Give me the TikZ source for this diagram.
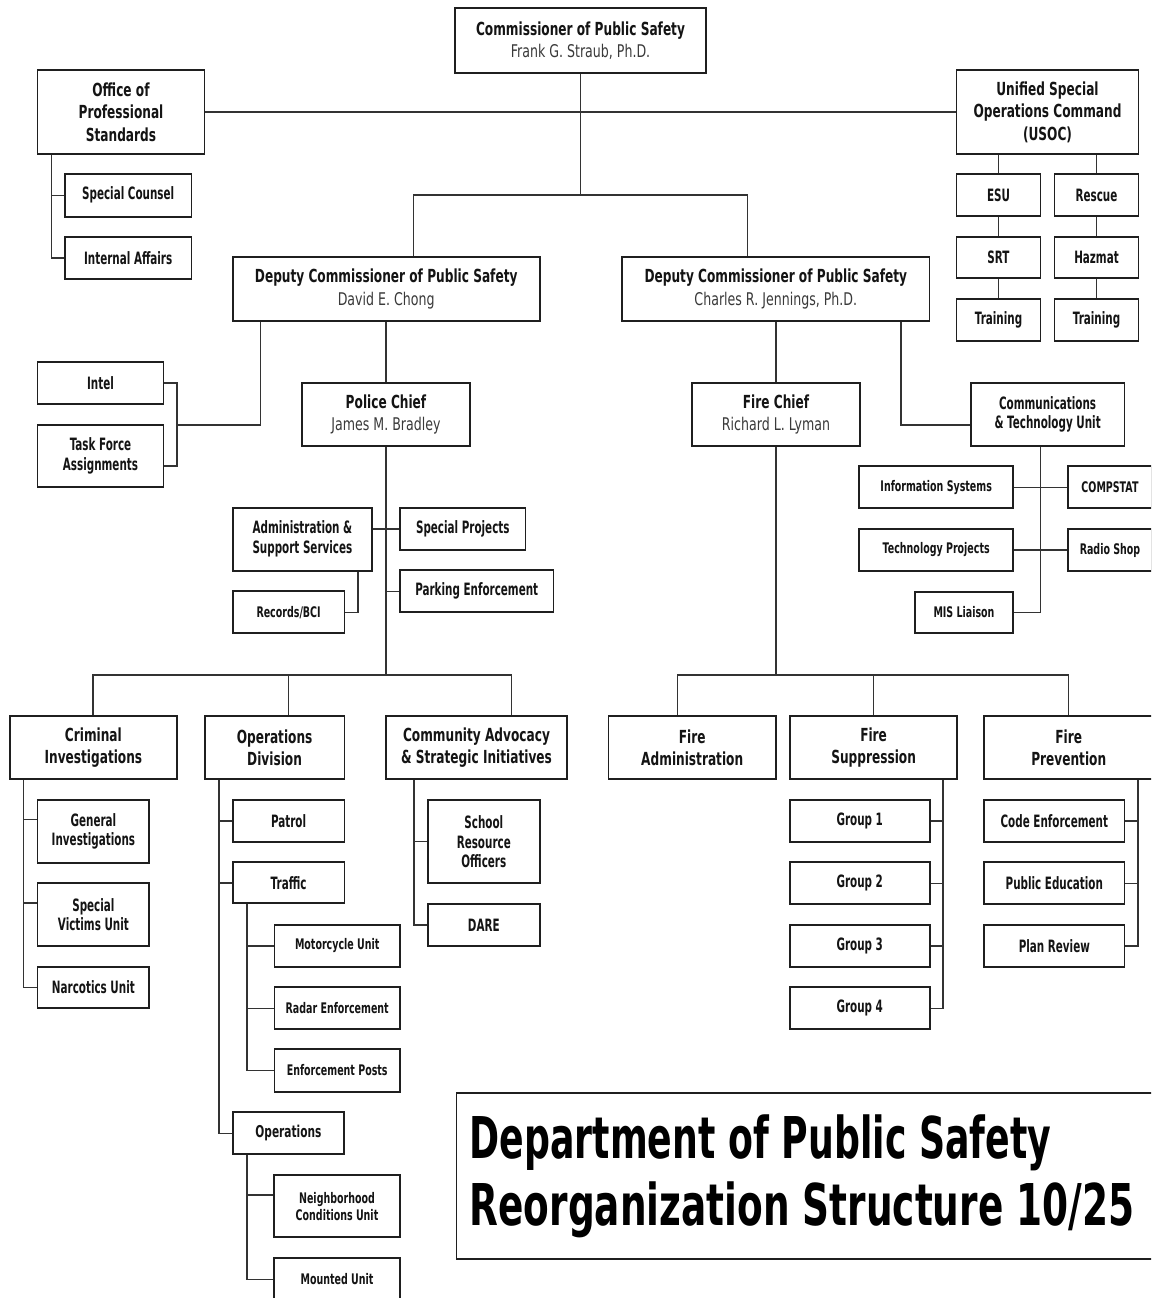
\documentclass[tikz,border=0pt]{standalone}
\usepackage{fontspec}
\setmainfont{DejaVu Sans}
\newfontfamily\fA{DejaVu Sans}[FakeStretch=0.675]
\newfontfamily\fB{DejaVu Sans}[FakeStretch=0.61]
\newfontfamily\fC{DejaVu Sans}[FakeStretch=0.65]
\newfontfamily\fN{DejaVu Sans}[FakeStretch=0.72]
\newfontfamily\fT{DejaVu Sans}[FakeStretch=0.63]
\newfontfamily\fTT{DejaVu Sans}[FakeStretch=0.65]
\definecolor{namegrey}{HTML}{3A3A3A}
\definecolor{linegrey}{HTML}{333333}
\newcommand\pname[1]{{\fN\mdseries\fontsize{17.5}{22.5}\selectfont\color{namegrey}#1}}
\tikzset{
  box/.style={draw=black!88, line width=1.8pt, fill=white, inner sep=0pt, align=center, text=black!92},
  big/.style={box, font=\fA\bfseries\fontsize{18}{22.5}\selectfont},
  med/.style={box, font=\fB\bfseries\fontsize{17}{19.8}\selectfont},
  sml/.style={box, font=\fC\bfseries\fontsize{14.6}{17}\selectfont},
  link/.style={draw=linegrey, line width=1.4pt},
  ttl/.style={anchor=base west, inner sep=0pt, text=black, font=\fT\bfseries\fontsize{57.6}{67}\selectfont},
}
\newcommand\tbr[2]{([yshift=-20.7pt]#1.north west) -- ([yshift=-20.7pt]#1.north west -| #2)}
\begin{document}
\begin{tikzpicture}[x=1pt,y=-1pt]
\useasboundingbox (0,0) rectangle (1151,1298);
\fill[white] (0,0) rectangle (1151,1298);
\clip (0,0) rectangle (1151,1298);

% ---------- top level ----------
\node[big, minimum width=251, minimum height=65] (comm) at (580.5,40.5) {Commissioner of Public Safety\\\pname{Frank G. Straub, Ph.D.}};
\node[big, minimum width=167, minimum height=84] (ops) at (121,112) {Office of\\Professional\\Standards};
\node[big, minimum width=182, minimum height=84] (usoc) at (1047.5,112) {Unified Special\\Operations Command\\(USOC)};
\node[med, minimum width=126.4, minimum height=42.7] (spc) at (128.2,195.3) {Special Counsel};
\node[med, minimum width=126.4, minimum height=42.3] (ia) at (128.2,257.8) {Internal Affairs};
\node[med, minimum width=84, minimum height=42] (esu) at (998.5,195) {ESU};
\node[med, minimum width=84, minimum height=42] (rescue) at (1096.5,195) {Rescue};
\node[med, minimum width=84, minimum height=41] (srt) at (998.5,257.8) {SRT};
\node[med, minimum width=84, minimum height=41] (hazmat) at (1096.5,257.8) {Hazmat};
\node[med, minimum width=84, minimum height=41.7] (tr1) at (998.5,320.2) {Training};
\node[med, minimum width=84, minimum height=41.7] (tr2) at (1096.5,320.2) {Training};
\node[big, minimum width=307, minimum height=63.4] (dc1) at (386.2,289) {Deputy Commissioner of Public Safety\\\pname{David E. Chong}};
\node[big, minimum width=307.2, minimum height=63.4] (dc2) at (775.8,289) {Deputy Commissioner of Public Safety\\\pname{Charles R. Jennings, Ph.D.}};

% ---------- police side ----------
\node[med, minimum width=126, minimum height=42.3] (intel) at (100.5,382.9) {Intel};
\node[med, minimum width=126, minimum height=62.3] (tfa) at (100.5,456.2) {Task Force\\Assignments};
\node[big, minimum width=167.3, minimum height=63.3] (pc) at (386,414.4) {Police Chief\\\pname{James M. Bradley}};
\node[med, minimum width=139.3, minimum height=63] (admin) at (302.4,539.2) {Administration \&\\Support Services};
\node[med, minimum width=125.5, minimum height=42.3] (sproj) at (462.8,528.9) {Special Projects};
\node[med, minimum width=153.4, minimum height=42.3] (park) at (476.7,591.2) {Parking Enforcement};
\node[sml, minimum width=111.7, minimum height=42.3] (rec) at (288.6,612.2) {Records/BCI};

\node[big, minimum width=167.6, minimum height=63.3] (ci) at (93.4,747.7) {Criminal\\Investigations};
\node[big, minimum width=139.7, minimum height=63.3] (od) at (274.6,747.7) {Operations\\Division};
\node[big, minimum width=181.4, minimum height=63.3] (ca) at (476.5,747.7) {Community Advocacy\\\& Strategic Initiatives};

\node[med, minimum width=111.8, minimum height=62.7] (gi) at (93.4,831.3) {General\\Investigations};
\node[med, minimum width=111.8, minimum height=62.7] (svu) at (93.4,914.7) {Special\\Victims Unit};
\node[med, minimum width=111.8, minimum height=41.6] (narc) at (93.4,987.5) {Narcotics Unit};

\node[med, minimum width=111.7, minimum height=41.7] (patrol) at (288.6,820.8) {Patrol};
\node[med, minimum width=111.7, minimum height=41] (traffic) at (288.6,882.8) {Traffic};
\node[sml, minimum width=125.6, minimum height=41.4] (moto) at (337.2,946) {Motorcycle Unit};
\node[sml, minimum width=125.6, minimum height=42] (radar) at (337.2,1008.3) {Radar Enforcement};
\node[sml, minimum width=125.6, minimum height=42.4] (posts) at (337.2,1070.5) {Enforcement Posts};
\node[sml, minimum width=111.5, minimum height=41.7, font=\fC\bfseries\fontsize{16.3}{17}\selectfont] (opsu) at (288.4,1133.2) {Operations};
\node[sml, minimum width=125.7, minimum height=62.3] (ncu) at (337,1206.2) {Neighborhood\\Conditions Unit};
\node[sml, minimum width=125.7, minimum height=41.7] (mounted) at (337,1279.2) {Mounted Unit};

\node[med, minimum width=111.7, minimum height=83.3] (sro) at (483.8,841.7) {School\\Resource\\Officers};
\node[med, minimum width=111.7, minimum height=42] (dare) at (483.8,925) {DARE};

% ---------- fire side ----------
\node[big, minimum width=167.5, minimum height=63.3] (fc) at (776,414.4) {Fire Chief\\\pname{Richard L. Lyman}};
\node[med, minimum width=153.7, minimum height=63.3] (ctu) at (1047.6,414.4) {Communications\\\& Technology Unit};
\node[sml, minimum width=153.7, minimum height=42.3] (infosys) at (936.2,487.2) {Information Systems};
\node[sml, minimum width=84, minimum height=42.3] (compstat) at (1110,487.2) {COMPSTAT};
\node[sml, minimum width=153.7, minimum height=42] (techproj) at (936.2,550) {Technology Projects};
\node[sml, minimum width=84, minimum height=42] (radio) at (1110,550) {Radio Shop};
\node[sml, minimum width=98, minimum height=41.6] (mis) at (964,612.5) {MIS Liaison};

\node[big, minimum width=167.5, minimum height=63.3] (fadm) at (692.2,747.7) {Fire\\Administration};
\node[big, minimum width=167.5, minimum height=63.3] (fsup) at (873.6,747.7) {Fire\\Suppression};
\node[big, minimum width=169, minimum height=63.3] (fprev) at (1068.7,747.7) {Fire\\Prevention};

\node[med, minimum width=139.8, minimum height=41.7] (g1) at (859.7,820.8) {Group 1};
\node[med, minimum width=139.8, minimum height=41.7] (g2) at (859.7,883.2) {Group 2};
\node[med, minimum width=139.8, minimum height=41.4] (g3) at (859.7,946) {Group 3};
\node[med, minimum width=139.8, minimum height=42] (g4) at (859.7,1008.3) {Group 4};
\node[med, minimum width=140.2, minimum height=41.7] (code) at (1054.3,820.8) {Code Enforcement};
\node[med, minimum width=140.2, minimum height=41.7] (pubed) at (1054.3,883.2) {Public Education};
\node[med, minimum width=140.2, minimum height=41.4] (plan) at (1054.3,946) {Plan Review};

% ---------- title ----------
\node[draw=black!88, line width=1.8pt, inner sep=0pt, minimum width=697.5, minimum height=166.6, anchor=north west] (title) at (455.5,1091.7) {};
\node[ttl] (tl1) at (469.5,1158.3) {Department of Public Safety};
\node[ttl, font=\fTT\bfseries\fontsize{57.6}{67}\selectfont] (tl2) at (469.5,1225) {Reorganization Structure 10/25};

% ---------- connectors ----------
\coordinate (hub) at (580.5,195);
\coordinate (dl) at (413.3,195);
\coordinate (dr) at (747.7,195);
\draw[link] (comm.south) -- (hub);
\draw[link] (ops.east) -- (usoc.west);
\draw[link] (dc1.north -| dl) -- (dl) -- (dr) -- (dc2.north -| dr);

\coordinate (opsbus) at (51.7,0);
\draw[link] (ops.south -| opsbus) |- (ia.west);
\draw[link] (spc.west) -- (spc.west -| opsbus);

\draw[link] (usoc.south -| esu.north) -- (esu.north);
\draw[link] (usoc.south -| rescue.north) -- (rescue.north);
\draw[link] (esu.south) -- (srt.north);
\draw[link] (srt.south) -- (tr1.north);
\draw[link] (rescue.south) -- (hazmat.north);
\draw[link] (hazmat.south) -- (tr2.north);

% deputy 1
\coordinate (dc1l) at (260.2,425);
\coordinate (brb) at (176.8,466);
\draw[link] (dc1.south -| dc1l) -- (dc1l) -- (dc1l -| brb);
\draw[link] (intel.east) -| (brb) -- (brb -| tfa.east);
\draw[link] (dc1.south -| pc.north) -- (pc.north);

\coordinate (pb) at (386,675);
\draw[link] (pc.south) -- (pb);
\draw[link] (admin.east |- sproj.west) -- (sproj.west);
\draw[link] (pc.south |- park.west) -- (park.west);
\coordinate (recj) at (357.8,0);
\draw[link] (admin.south -| recj) |- (rec.east);

\coordinate (pbl) at (93,675);
\coordinate (pbm) at (288.2,675);
\coordinate (pbr) at (511.3,675);
\draw[link] (ci.north -| pbl) -- (pbl) -- (pbr) -- (ca.north -| pbr);
\draw[link] (pbm) -- (od.north -| pbm);

\coordinate (cib) at (23.7,0);
\draw[link] (ci.south -| cib) |- (narc.west);
\draw[link] \tbr{gi}{cib};
\draw[link] \tbr{svu}{cib};

\coordinate (odb) at (218.9,0);
\draw[link] (od.south -| odb) |- (opsu.west);
\draw[link] (patrol.west) -- (patrol.west -| odb);
\draw[link] (traffic.west) -- (traffic.west -| odb);

\coordinate (trb) at (246.8,0);
\draw[link] (traffic.south -| trb) |- (posts.west);
\draw[link] (moto.west) -- (moto.west -| trb);
\draw[link] (radar.west) -- (radar.west -| trb);
\draw[link] (opsu.south -| trb) |- (mounted.west);
\draw[link] \tbr{ncu}{trb};

\coordinate (cab) at (414.1,0);
\draw[link] (ca.south -| cab) |- (dare.west);
\draw[link] (sro.west) -- (sro.west -| cab);

% deputy 2
\draw[link] (dc2.south -| fc.north) -- (fc.north);
\coordinate (dc2r) at (901.1,425);
\draw[link] (dc2.south -| dc2r) -- (dc2r) -- (dc2r -| ctu.west);
\coordinate (ctub) at (1040.7,0);
\draw[link] (ctu.south -| ctub) |- (mis.east);
\draw[link] (infosys.east) -- (compstat.west);
\draw[link] (techproj.east) -- (radio.west);

\coordinate (fb) at (776,675);
\coordinate (fbl) at (677.6,675);
\coordinate (fbr) at (1068.7,675);
\draw[link] (fc.south) -- (fb);
\draw[link] (fadm.north -| fbl) -- (fbl) -- (fbr) -- (fprev.north);
\draw[link] (fsup.north) -- (fsup.north |- fb);

\coordinate (fsb) at (943.1,0);
\draw[link] (fsup.south -| fsb) |- (g4.east);
\draw[link] (g1.east) -- (g1.east -| fsb);
\draw[link] (g2.east) -- (g2.east -| fsb);
\draw[link] (g3.east) -- (g3.east -| fsb);

\coordinate (fpb) at (1137.9,0);
\draw[link] (fprev.south -| fpb) |- (plan.east);
\draw[link] (code.east) -- (code.east -| fpb);
\draw[link] (pubed.east) -- (pubed.east -| fpb);
\end{tikzpicture}
\end{document}
